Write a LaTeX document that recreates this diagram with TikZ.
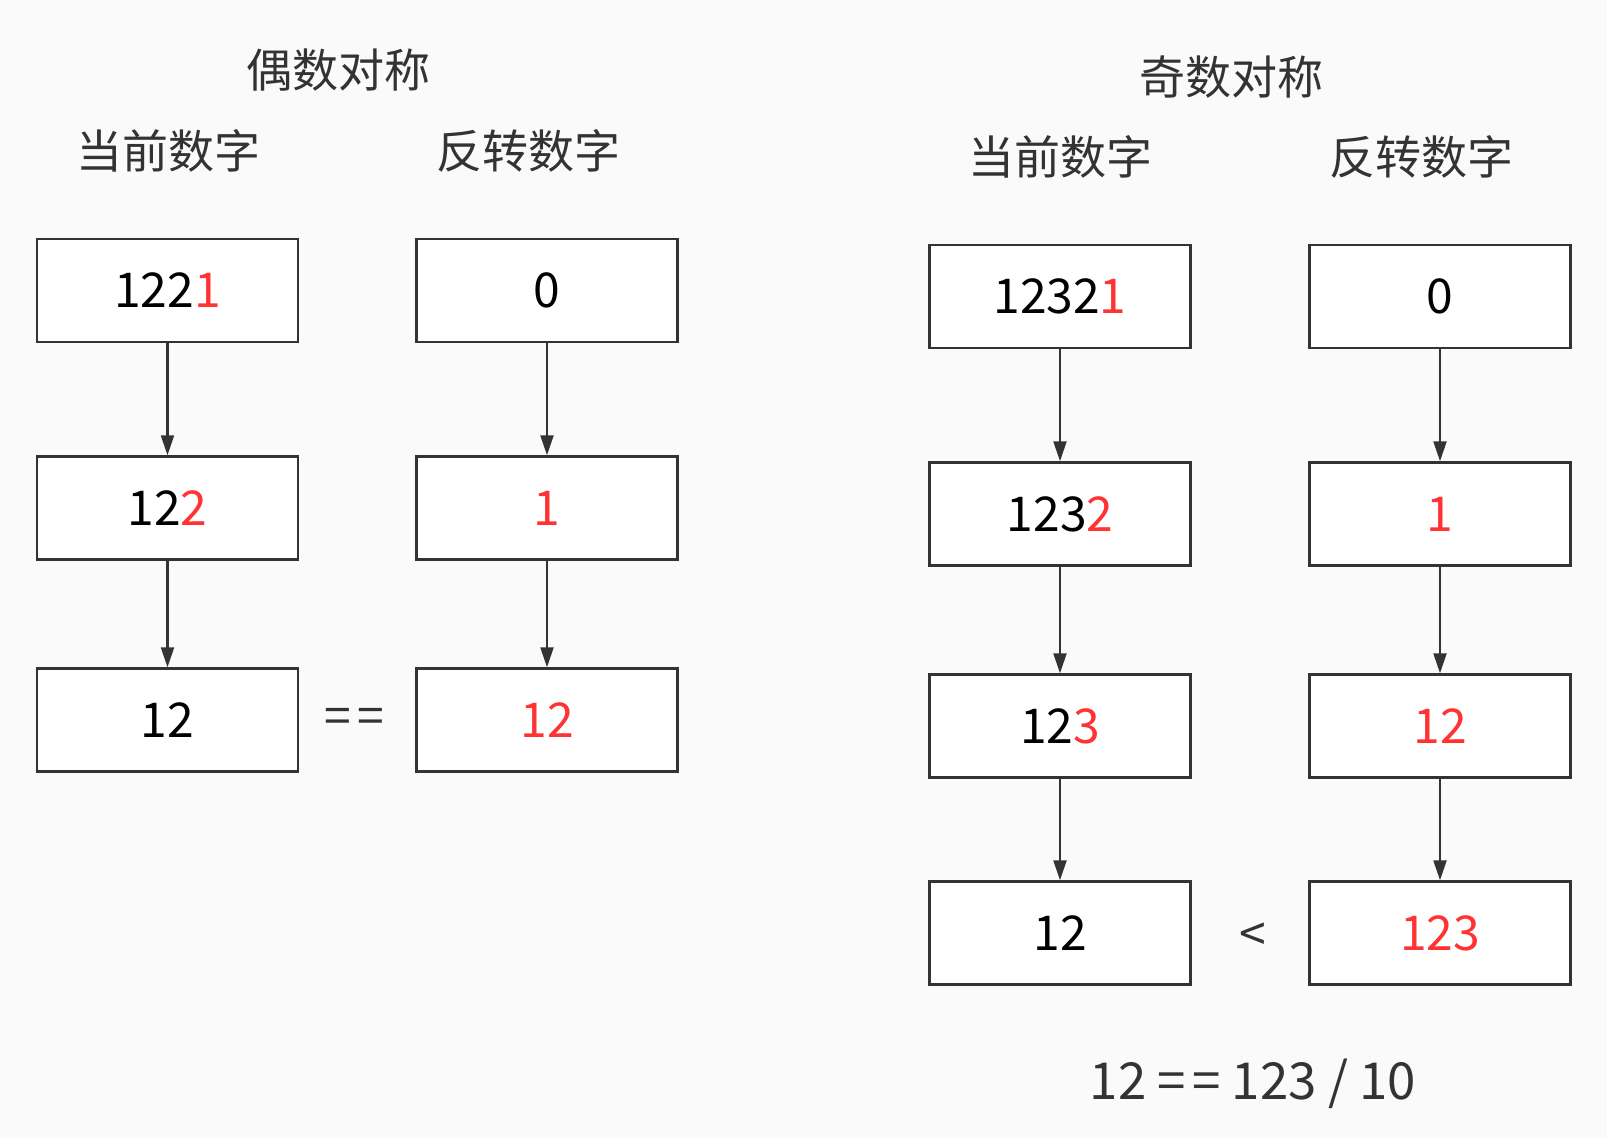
\documentclass[tikz,border=0pt]{standalone}
\usepackage{fontspec}
\setmainfont{Noto Sans CJK SC}
\usetikzlibrary{arrows.meta}
\definecolor{bg}{HTML}{FAFAFA}
\definecolor{ink}{HTML}{333333}
\definecolor{hl}{HTML}{FF3333}
\newcommand{\hlt}[1]{\textcolor{hl}{#1}}
\newcommand{\eqeq}{=\kern3pt=}
\tikzset{
  numbox/.style={draw=ink, fill=white, line width=1.2pt, minimum width=130.5pt, minimum height=51.5pt, inner sep=0pt, font=\fontsize{24}{28}\selectfont, text=black},
  title/.style={font=\fontsize{23}{27}\selectfont, text=ink, inner sep=0pt},
  op/.style={font=\fontsize{24}{28}\selectfont, text=ink, inner sep=0pt},
  flow/.style={draw=ink, line width=1.1pt, -{Triangle[length=10pt,width=6.5pt]}}
}
\begin{document}
\begin{tikzpicture}[x=0.5pt,y=-0.5pt]
\fill[bg] (0,0) rectangle (1607,1138);
\useasboundingbox (0,0) rectangle (1607,1138);
% left group
\node[title] (t1) at (338,70) {偶数对称};
\node[title] (h1) at (168,151) {当前数字};
\node[title] (h2) at (528,151) {反转数字};
\node[numbox] (a1) at (167.5,290.5) {122\hlt{1}};
\node[numbox] (a2) at (167.5,508) {12\hlt{2}};
\node[numbox] (a3) at (167.5,720) {12};
\node[numbox] (b1) at (547,290.5) {0};
\node[numbox] (b2) at (547,508) {\hlt{1}};
\node[numbox] (b3) at (547,720) {\hlt{12}};
\draw[flow] (a1) -- (a2);
\draw[flow] (a2) -- (a3);
\draw[flow] (b1) -- (b2);
\draw[flow] (b2) -- (b3);
\node[op] (eq1) at (354,721) {\eqeq};
% right group
\node[title] (t2) at (1231,77) {奇数对称};
\node[title] (h3) at (1060,157) {当前数字};
\node[title] (h4) at (1421,157) {反转数字};
\node[numbox] (c1) at (1060,296.5) {1232\hlt{1}};
\node[numbox] (c2) at (1060,514) {123\hlt{2}};
\node[numbox] (c3) at (1060,726) {12\hlt{3}};
\node[numbox] (c4) at (1060,933) {12};
\node[numbox] (d1) at (1440,296.5) {0};
\node[numbox] (d2) at (1440,514) {\hlt{1}};
\node[numbox] (d3) at (1440,726) {\hlt{12}};
\node[numbox] (d4) at (1440,933) {\hlt{123}};
\draw[flow] (c1) -- (c2);
\draw[flow] (c2) -- (c3);
\draw[flow] (c3) -- (c4);
\draw[flow] (d1) -- (d2);
\draw[flow] (d2) -- (d3);
\draw[flow] (d3) -- (d4);
\node[op] (lt) at (1253,937) {<};
\node[op, font=\fontsize{25.5}{30}\selectfont] (eq2) at (1253,1084) {12 \eqeq{} 123 / 10};
\end{tikzpicture}
\end{document}
